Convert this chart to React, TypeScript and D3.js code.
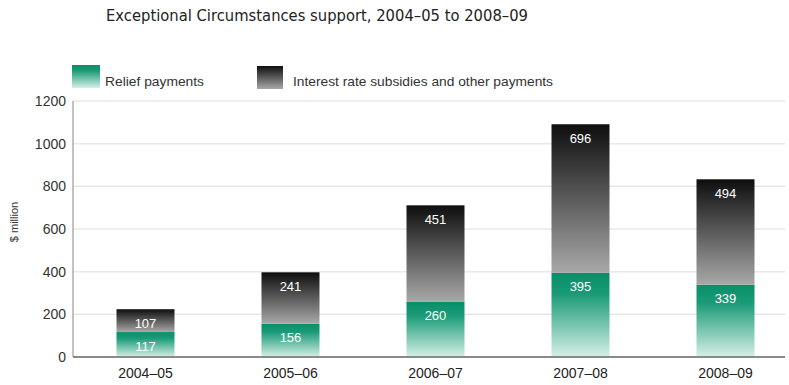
import React from "react";
import * as d3 from "d3";

const categories = ["2004–05", "2005–06", "2006–07", "2007–08", "2008–09"];
const reliefPayments = [117, 156, 260, 395, 339];
const interestSubsidies = [107, 241, 451, 696, 494];
const yTicks = [0, 200, 400, 600, 800, 1000, 1200];
const seriesNames = ["Relief payments", "Interest rate subsidies and other payments"];
const title = "Exceptional Circumstances support, 2004–05 to 2008–09";
const yLabel = "$ million";

export default function App() {
  const W = 789, H = 385;
  const left = 73, right = 785;
  const y = d3.scaleLinear().domain([0, 1200]).range([357, 101]);
  const x = d3.scaleBand<string>().domain(categories).range([73, 798]).paddingInner(0.6).paddingOuter(0.3);
  const bw = x.bandwidth();
  const font = "'Liberation Sans Narrow', 'Liberation Sans', Arial, sans-serif";

  return (
    <svg width={W} height={H} style={{ position: "absolute", left: 0, top: 0, background: "#fff" }}>
      <defs>
        <linearGradient id="gGreen" x1="0" y1="0" x2="0" y2="1">
          <stop offset="0" stopColor="#078f68" />
          <stop offset="0.25" stopColor="#1a9b77" />
          <stop offset="1" stopColor="#d6efe7" />
        </linearGradient>
        <linearGradient id="gDark" x1="0" y1="0" x2="0" y2="1">
          <stop offset="0" stopColor="#0e0e0e" />
          <stop offset="1" stopColor="#a8a8a8" />
        </linearGradient>
      </defs>
      <text x={106} y={21} fontFamily="'DejaVu Sans', Verdana, sans-serif" fontSize={15} fill="#222"
        textLength={422} lengthAdjust="spacingAndGlyphs">{title}</text>

      {/* legend */}
      <rect x={72} y={65} width={28} height={23} fill="url(#gGreen)" />
      <text x={105} y={86} fontFamily={font} fontSize={13} fill="#333" textLength={99} lengthAdjust="spacingAndGlyphs">{seriesNames[0]}</text>
      <rect x={257} y={66} width={26} height={23} fill="url(#gDark)" />
      <text x={293} y={86} fontFamily={font} fontSize={13} fill="#333" textLength={260} lengthAdjust="spacingAndGlyphs">{seriesNames[1]}</text>

      {/* grid */}
      {yTicks.map((t) => (
        <g key={t}>
          {t > 0 && <line x1={left} x2={right} y1={y(t)} y2={y(t)} stroke="#e8e8e8" strokeWidth={1.5} />}
          <text x={66} y={y(t)} dy="0.35em" textAnchor="end" fontFamily={font} fontSize={14} fill="#333">{t}</text>
        </g>
      ))}
      <line x1={left} x2={left} y1={y(1200)} y2={y(0)} stroke="#9a9a9a" strokeWidth={1.2} />
      <text transform={`translate(18,${222}) rotate(-90)`} textAnchor="middle" fontFamily={font} fontSize={11} fill="#333">{yLabel}</text>

      {/* bars */}
      {categories.map((c, i) => {
        const x0 = x(c)!;
        const r = reliefPayments[i];
        const s = interestSubsidies[i];
        const yR = y(r);
        const yT = y(r + s);
        return (
          <g key={c}>
            <rect x={x0} y={yR} width={bw} height={y(0) - yR} fill="url(#gGreen)" />
            <rect x={x0} y={yT} width={bw} height={yR - yT} fill="url(#gDark)" />
            <text x={x0 + bw / 2} y={yR + 14} dy="0.35em" textAnchor="middle" fontFamily={font} fontSize={13} fill="#fff">{r}</text>
            <text x={x0 + bw / 2} y={yT + 14} dy="0.35em" textAnchor="middle" fontFamily={font} fontSize={13} fill="#fff">{s}</text>
            <text x={x0 + bw / 2} y={373} dy="0.35em" textAnchor="middle" fontFamily={font} fontSize={14} fill="#222">{c}</text>
          </g>
        );
      })}
      <line x1={left} x2={right} y1={y(0)} y2={y(0)} stroke="#8a8a8a" strokeWidth={2} />
    </svg>
  );
}
